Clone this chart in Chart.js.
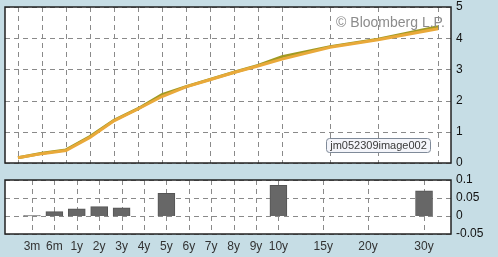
<!DOCTYPE html>
<html>
<head>
<meta charset="utf-8">
<script src="https://cdn.jsdelivr.net/npm/chart.js@4/dist/chart.umd.min.js"></script>
<style>
  html, body { margin: 0; padding: 0; background: #c6dde5; }
  #wrap { position: relative; width: 498px; height: 257px; overflow: hidden; }
  #curve { position: absolute; left: 0; top: 0; }
  #change { position: absolute; left: 0; top: 170px; }
</style>
</head>
<body>
<div id="wrap">
  <canvas id="curve" width="498" height="170"></canvas>
  <canvas id="change" width="498" height="87"></canvas>
</div>
<script>
(function() {
  // tenors and their slot on the x axis (15y/20y/30y are spaced wider)
  const tenors = ["3m", "6m", "1y", "2y", "3y", "4y", "5y", "6y", "7y", "8y", "9y", "10y", "15y", "20y", "30y"];
  const tenorSlot = [0, 1, 2, 3, 4, 5, 6, 7, 8, 9, 10, 11, 13, 15, 17.5];

  // current curve (green) and prior curve (orange), percent
  const curveNow = [0.17, 0.31, 0.42, 0.85, 1.37, 1.74, 2.19, 2.45, 2.68, 2.91, 3.13, 3.41, 3.73, 3.97, 4.37];
  const curvePrev = [0.17, 0.30, 0.40, 0.82, 1.35, 1.73, 2.13, 2.44, 2.67, 2.90, 3.11, 3.33, 3.71, 3.95, 4.30];

  // change bars, only for benchmark tenors
  const barTenors = ["3m", "6m", "1y", "2y", "3y", "5y", "10y", "30y"];
  const barChange = [0.001, 0.012, 0.020, 0.026, 0.023, 0.063, 0.085, 0.070];

  const FONT = "'Liberation Sans', Arial, sans-serif";

  const slotOf = t => tenorSlot[tenors.indexOf(t)];

  // white plot area, dashed grid, dark frame
  const framePlugin = {
    id: "frame",
    beforeDatasetsDraw(chart) {
      const { ctx, chartArea: a, scales } = chart;
      ctx.save();
      ctx.fillStyle = "#ffffff";
      ctx.fillRect(a.left, a.top, a.right - a.left, a.bottom - a.top);
      ctx.strokeStyle = "#8a8a8a";
      ctx.lineWidth = 1;
      ctx.setLineDash([5, 4]);
      scales.x.ticks.forEach(t => {
        const x = Math.round(scales.x.getPixelForValue(t.value)) + 0.5;
        ctx.beginPath();
        ctx.moveTo(x, a.top);
        ctx.lineTo(x, a.bottom);
        ctx.stroke();
      });
      scales.y.ticks.forEach(t => {
        const y = Math.round(scales.y.getPixelForValue(t.value)) + 0.5;
        ctx.beginPath();
        ctx.moveTo(a.left, y);
        ctx.lineTo(a.right, y);
        ctx.stroke();
      });
      ctx.restore();
    },
    afterDraw(chart) {
      const { ctx, chartArea: a } = chart;
      ctx.save();
      ctx.strokeStyle = "#222";
      ctx.lineWidth = 1.5;
      ctx.strokeRect(a.left, a.top, a.right - a.left, a.bottom - a.top);
      ctx.restore();
    }
  };

  // watermark and image tag on the curve panel
  const notesPlugin = {
    id: "notes",
    afterDatasetsDraw(chart) {
      const { ctx, chartArea: a } = chart;
      ctx.save();
      ctx.font = "14px " + FONT;
      ctx.fillStyle = "#8c8c8c";
      ctx.textAlign = "right";
      ctx.textBaseline = "alphabetic";
      ctx.fillText("\u00a9 Bloomberg L.P.", a.right - 6, a.top + 20);

      const bx = 326, by = 138, bw = 104, bh = 14;
      ctx.beginPath();
      ctx.roundRect(bx + 0.5, by + 0.5, bw, bh, 3);
      ctx.fillStyle = "#f4f5fa";
      ctx.fill();
      ctx.strokeStyle = "#7f8a99";
      ctx.lineWidth = 1;
      ctx.stroke();
      ctx.font = "11px " + FONT;
      ctx.fillStyle = "#3a3a3a";
      ctx.textAlign = "center";
      ctx.textBaseline = "middle";
      ctx.fillText("jm052309image002", bx + bw / 2 + 0.5, by + bh / 2 + 1);
      ctx.restore();
    }
  };

  function noPad(scale) {
    scale.paddingTop = 0;
    scale.paddingBottom = 0;
    scale.paddingLeft = 0;
    scale.paddingRight = 0;
  }

  function xAxis(showLabels) {
    return {
      type: "linear",
      min: -0.54,
      max: 18.04,
      afterBuildTicks(scale) {
        scale.ticks = tenorSlot.map(v => ({ value: v }));
      },
      afterFit(scale) {
        scale.height = showLabels ? 23 : 0;
        noPad(scale);
      },
      grid: { display: false, drawTicks: false },
      border: { display: false },
      ticks: {
        display: showLabels,
        autoSkip: false,
        maxRotation: 0,
        padding: 5,
        color: "#333",
        font: { family: FONT, size: 12 },
        callback: (v, i) => tenors[i]
      }
    };
  }

  function yAxis(min, max, step, fmt) {
    return {
      position: "right",
      min: min,
      max: max,
      afterFit(scale) {
        scale.width = 47;
        noPad(scale);
      },
      grid: { display: false, drawTicks: false },
      border: { display: false },
      ticks: {
        stepSize: step,
        autoSkip: false,
        padding: 5,
        color: "#111",
        font: { family: FONT, size: 12 },
        callback: fmt
      }
    };
  }

  new Chart(document.getElementById("curve"), {
    type: "line",
    data: {
      datasets: [
        {
          data: tenorSlot.map((x, i) => ({ x: x, y: curvePrev[i] })),
          borderColor: "#e9a93a",
          borderWidth: 3,
          pointRadius: 0,
          tension: 0
        },
        {
          data: tenorSlot.map((x, i) => ({ x: x, y: curveNow[i] })),
          borderColor: "#a09a22",
          borderWidth: 3,
          pointRadius: 0,
          tension: 0
        }
      ]
    },
    options: {
      responsive: false,
      animation: false,
      layout: { padding: { left: 5, top: 7, right: 0, bottom: 7 } },
      plugins: { legend: { display: false }, tooltip: { enabled: false } },
      scales: {
        x: xAxis(false),
        y: yAxis(0, 5, 1, v => String(v))
      }
    },
    plugins: [framePlugin, notesPlugin]
  });

  new Chart(document.getElementById("change"), {
    type: "bar",
    data: {
      datasets: [{
        data: barTenors.map((t, i) => ({ x: slotOf(t), y: barChange[i] })),
        backgroundColor: "#676767",
        borderColor: "#555",
        borderWidth: 1,
        barThickness: 17
      }]
    },
    options: {
      responsive: false,
      animation: false,
      layout: { padding: { left: 5, top: 10, right: 0, bottom: 0 } },
      plugins: { legend: { display: false }, tooltip: { enabled: false } },
      scales: {
        x: xAxis(true),
        y: yAxis(-0.05, 0.1, 0.05, v => String(Math.round(v * 100) / 100))
      }
    },
    plugins: [framePlugin]
  });
})();
</script>
</body>
</html>
